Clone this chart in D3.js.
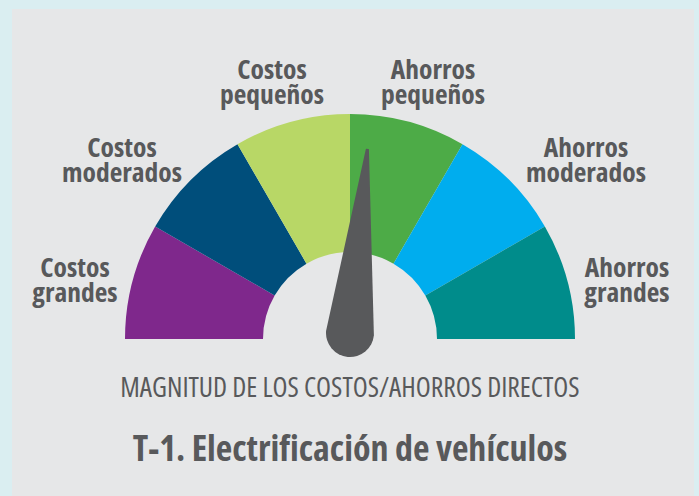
<!DOCTYPE html>
<html>
<head>
<meta charset="utf-8">
<script src="https://cdn.jsdelivr.net/npm/d3@7"></script>
<style>
  html, body { margin: 0; padding: 0; background: #daeef1; }
  svg { display: block; }
  text { font-family: "Open Sans", "Noto Sans", sans-serif; font-stretch: condensed; fill: #58595b; }
</style>
</head>
<body>
<div id="chart"></div>
<script>
// segments, from costs (left) to savings (right)
var categories = [
    ["Costos", "grandes"],
    ["Costos", "moderados"],
    ["Costos", "pequeños"],
    ["Ahorros", "pequeños"],
    ["Ahorros", "moderados"],
    ["Ahorros", "grandes"]
];
var segmentColors = ["#7f288c", "#004e7b", "#b8d766", "#4dab47", "#00adee", "#008c8b"];
// scale goes -3 (costos grandes) .. +3 (ahorros grandes)
var needleValue = 0.18;
var axisLabel = "MAGNITUD DE LOS COSTOS/AHORROS DIRECTOS";
var title = "T-1. Electrificación de vehículos";

var width = 699,
    height = 496;

var cx = 350, cy = 339,
    innerR = 87, outerR = 225;

var svg = d3.select("#chart")
    .append("svg")
    .attr("width", width)
    .attr("height", height);

svg.append("rect")
    .attr("x", 12)
    .attr("y", 9)
    .attr("width", 682)
    .attr("height", height - 9)
    .attr("fill", "#e6e7e8");

var angle = d3.scaleLinear()
    .domain([-3, 3])
    .range([-Math.PI / 2, Math.PI / 2]);

var arc = d3.arc()
    .innerRadius(innerR)
    .outerRadius(outerR);

var g = svg.append("g")
    .attr("transform", "translate(" + cx + "," + cy + ")");

g.selectAll("path.seg")
    .data(categories)
    .enter().append("path")
    .attr("class", "seg")
    .attr("d", function (d, i) {
        return arc({ startAngle: angle(-3 + i), endAngle: angle(-2 + i) });
    })
    .attr("fill", function (d, i) { return segmentColors[i]; });

// label placement (centre x, first baseline) around the dial
var labelPos = [
    [75, 277], [122, 157], [272, 79],
    [433, 79], [586, 157], [627, 277]
];
var lineGap = 25;

var labels = svg.selectAll("text.cat")
    .data(categories)
    .enter().append("text")
    .attr("class", "cat")
    .attr("text-anchor", "middle")
    .attr("font-size", 27.5)
    .attr("font-weight", 700)
    .attr("x", function (d, i) { return labelPos[i][0]; })
    .attr("y", function (d, i) { return labelPos[i][1]; });

labels.selectAll("tspan")
    .data(function (d, i) { return d.map(function (s) { return [s, i]; }); })
    .enter().append("tspan")
    .attr("x", function (d) { return labelPos[d[1]][0]; })
    .attr("dy", function (d, j) { return j === 0 ? 0 : lineGap; })
    .text(function (d) { return d[0]; });

// needle
var needleLen = 185, baseR = 24, tipW = 1.5;
var needle = d3.path();
needle.moveTo(-tipW, -needleLen);
needle.lineTo(tipW, -needleLen);
needle.lineTo(baseR, 0);
needle.arc(0, 0, baseR, 0, Math.PI);
needle.closePath();

g.append("path")
    .attr("d", needle.toString())
    .attr("fill", "#58595b")
    .attr("transform", "translate(0,-6) rotate(" + (angle(needleValue) * 180 / Math.PI) + ")");

svg.append("text")
    .attr("x", cx)
    .attr("y", 397)
    .attr("text-anchor", "middle")
    .attr("font-size", 27.5)
    .text(axisLabel);

svg.append("text")
    .attr("x", cx)
    .attr("y", 461)
    .attr("text-anchor", "middle")
    .attr("font-size", 36)
    .attr("font-weight", 700)
    .text(title);
</script>
</body>
</html>
